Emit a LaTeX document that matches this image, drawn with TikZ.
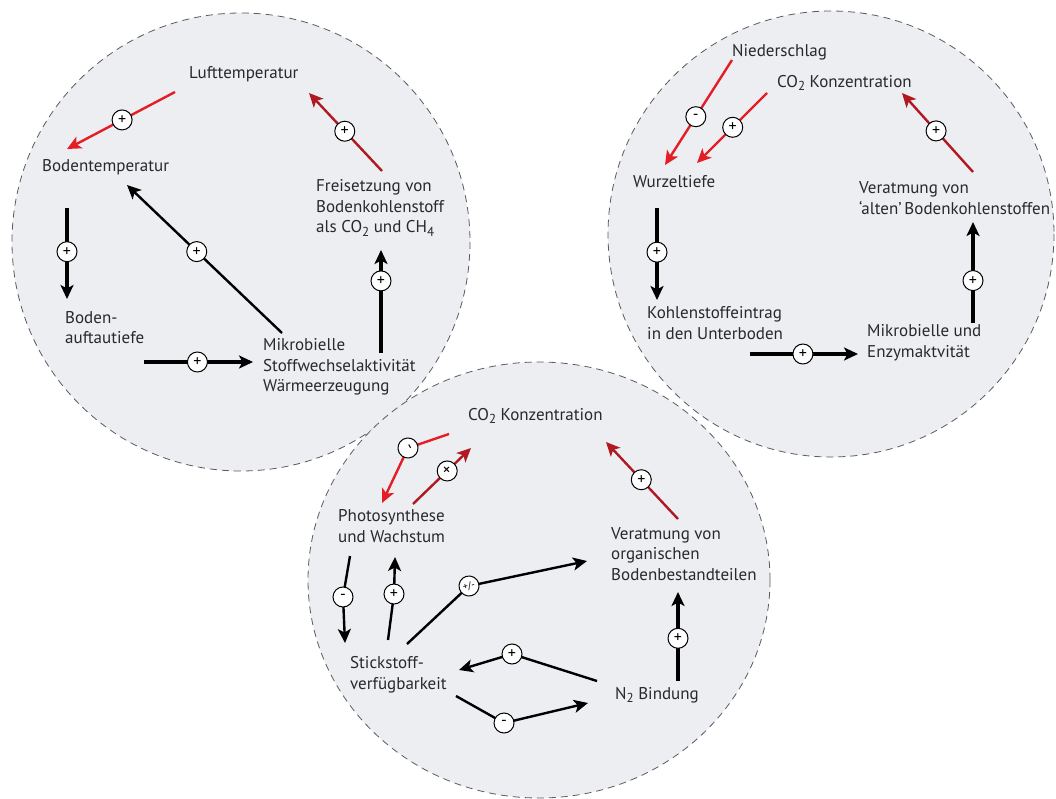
\documentclass[tikz,border=0pt]{standalone}
\usepackage{fontspec}
\setmainfont{PT Sans}
\usetikzlibrary{
  arrows.meta,
  positioning
}
\definecolor{zonefill}{RGB}{237, 238, 241}
\definecolor{zoneline}{RGB}{90, 90, 95}
\definecolor{labelcolor}{RGB}{40, 40, 45}
\definecolor{warmred}{RGB}{228, 30, 38}
\definecolor{darkred}{RGB}{176, 24, 34}
\newcommand{\chemsub}[1]{\raisebox{-3.5pt}{\fontsize{13}{13}\selectfont #1}}
\tikzset{
zone/.style={
  fill=zonefill,
  draw=zoneline,
  line width=0.8pt,
  dash pattern=on 7pt off 5pt
},
factor/.style={
  align=left,
  anchor=west,
  inner sep=0pt,
  font=\fontsize{17}{20.5}\selectfont,
  text=labelcolor
},
sign/.style={
  circle,
  draw=black,
  fill=white,
  line width=1pt,
  minimum size=20pt,
  inner sep=0pt,
  font=\fontsize{16}{16}\selectfont
},
link/.style={
  -{Stealth[length=14pt,width=13pt,inset=3.5pt]},
  line width=2.4pt,
  draw=black
},
thicklink/.style={
  link,
  line width=3.4pt
},
redlink/.style={
  link,
  draw=warmred
},
darklink/.style={
  link,
  draw=darkred
}
}
\begin{document}
\begin{tikzpicture}[x=1pt,y=-1pt]
\useasboundingbox (0,0) rectangle (1056,799);

% the three zones
\draw[zone] (241,242) circle[radius=229];
\draw[zone] (831,234) circle[radius=223];
\draw[zone] (539,580) ellipse[x radius=231,y radius=218];

% zone 1: permafrost
\node[factor] (luft) at (189,74) {Lufttemperatur};
\node[factor] (bodentemp) at (42,167) {Bodentemperatur};
\node[factor] (freisetzung) at (316,208) {Freisetzung von\\Bodenkohlenstoff\\als CO\chemsub{2} und CH\chemsub{4}};
\node[factor] (auftau) at (65,327.5) {Boden-\\auftautiefe};
\node[factor] (mikro) at (263,367) {Mikrobielle\\Stoffwechselaktivität\\Wärmeerzeugung};

\coordinate (luft-out) at (175,92);
\coordinate (bodentemp-in) at (67,149);
\coordinate (mikro-out) at (282,333);
\coordinate (bodentemp-in2) at (127,185);
\coordinate (freisetzung-out) at (382,171);
\coordinate (luft-in) at (309,93);
\coordinate (mikro-out2) at (381,353);
\coordinate (freisetzung-in) at (381,250);
\coordinate (bodentemp-out) at (67,208);
\coordinate (auftau-in) at (67,299);
\coordinate (auftau-out) at (144,362);
\coordinate (mikro-in) at (253,362);

\draw[redlink] (luft-out) -- node[sign,pos=.49] (s11) {+} (bodentemp-in);
\draw[link] (mikro-out) -- node[sign,pos=.55] (s12) {+} (bodentemp-in2);
\draw[darklink] (freisetzung-out) -- node[sign,pos=.51] (s13) {+} (luft-in);
\draw[thicklink] (mikro-out2) -- node[sign,pos=.70] (s14) {+} (freisetzung-in);
\draw[thicklink] (bodentemp-out) -- node[sign,pos=.48] (s15) {+} (auftau-in);
\draw[thicklink] (auftau-out) -- node[sign,pos=.49] (s16) {+} (mikro-in);

% zone 2: roots and subsoil
\node[factor] (nieder) at (732,52) {Niederschlag};
\node[factor] (co2a) at (777,83) {CO\chemsub{2} Konzentration};
\node[factor] (wurzel) at (633,182) {Wurzeltiefe};
\node[factor] (eintrag) at (647,323) {Kohlenstoffeintrag\\in den Unterboden};
\node[factor] (enzym) at (867,342.5) {Mikrobielle und\\Enzymaktvität};
\node[factor] (alte) at (859,198) {Veratmung von\\`alten'\,Bodenkohlenstoffen};

\coordinate (nieder-out) at (732,60);
\coordinate (wurzel-in) at (665,165);
\coordinate (co2a-out) at (767,93);
\coordinate (wurzel-in2) at (697,163);
\coordinate (wurzel-out) at (657,208);
\coordinate (eintrag-in) at (657,300);
\coordinate (eintrag-out) at (750,354);
\coordinate (enzym-in) at (858,354);
\coordinate (enzym-out) at (973,323);
\coordinate (alte-in) at (973,222);
\coordinate (alte-out) at (973,172);
\coordinate (co2a-in) at (902,93);

\draw[redlink] (nieder-out) -- node[sign,pos=.54] (s21) {-} (wurzel-in);
\draw[redlink] (co2a-out) -- node[sign,pos=.49] (s22) {+} (wurzel-in2);
\draw[thicklink] (wurzel-out) -- node[sign,pos=.48] (s23) {+} (eintrag-in);
\draw[thicklink] (eintrag-out) -- node[sign,pos=.49] (s24) {+} (enzym-in);
\draw[thicklink] (enzym-out) -- node[sign,pos=.42] (s25) {+} (alte-in);
\draw[darklink] (alte-out) -- node[sign,pos=.52] (s26) {+} (co2a-in);

% zone 3: nitrogen
\node[factor] (co2b) at (468,416) {CO\chemsub{2} Konzentration};
\node[factor] (photo) at (338,526) {Photosynthese\\und Wachstum};
\node[factor] (organisch) at (611,554) {Veratmung von\\organischen\\Bodenbestandteilen};
\node[factor] (ndrei) at (615,695) {N\chemsub{2} Bindung};
\node[factor] (stick) at (350,674.5) {Stickstoff-\\verfügbarkeit};

\coordinate (co2b-out) at (449,434);
\coordinate (photo-bend) at (408,448);
\coordinate (photo-in) at (382,503);
\coordinate (photo-out) at (413,504);
\coordinate (co2b-in) at (471,448);
\coordinate (organisch-out) at (678,519);
\coordinate (co2b-in2) at (606,442);
\coordinate (ndrei-out) at (678,681);
\coordinate (organisch-in) at (678,592);
\coordinate (ndrei-out2) at (597,681);
\coordinate (ndrei-bend) at (512,654);
\coordinate (stick-in) at (459,670);
\coordinate (stick-out) at (456,696);
\coordinate (stick-bend) at (504,723);
\coordinate (ndrei-in) at (588,703);
\coordinate (photo-out2) at (350,556);
\coordinate (photo-bend2) at (343,597);
\coordinate (stick-in2) at (345,643);
\coordinate (stick-out2) at (388,640);
\coordinate (stick-bend2) at (394,594);
\coordinate (photo-in2) at (395,557);
\coordinate (stick-out3) at (407,644);
\coordinate (stick-bend3) at (469,586);
\coordinate (organisch-in2) at (587,561);

\draw[redlink] (co2b-out) -- (photo-bend) node[sign,rotate=-60] (s31) {-} -- (photo-in);
\draw[darklink] (photo-out) -- node[sign,pos=.59,rotate=45] (s32) {+} (co2b-in);
\draw[darklink] (organisch-out) -- node[sign,pos=.51] (s33) {+} (co2b-in2);
\draw[thicklink] (ndrei-out) -- node[sign,pos=.48] (s34) {+} (organisch-in);
\draw[link] (ndrei-out2) -- (ndrei-bend) node[sign] (s35) {+} -- (stick-in);
\draw[link] (stick-out) -- (stick-bend) node[sign] (s36) {-} -- (ndrei-in);
\draw[link] (photo-out2) -- (photo-bend2) node[sign] (s37) {-} -- (stick-in2);
\draw[link] (stick-out2) -- (stick-bend2) node[sign] (s38) {+} -- (photo-in2);
\draw[link] (stick-out3) -- (stick-bend3) node[sign,font=\fontsize{10}{10}\selectfont,rotate=15] (s39) {+/-} -- (organisch-in2);
\end{tikzpicture}
\end{document}
